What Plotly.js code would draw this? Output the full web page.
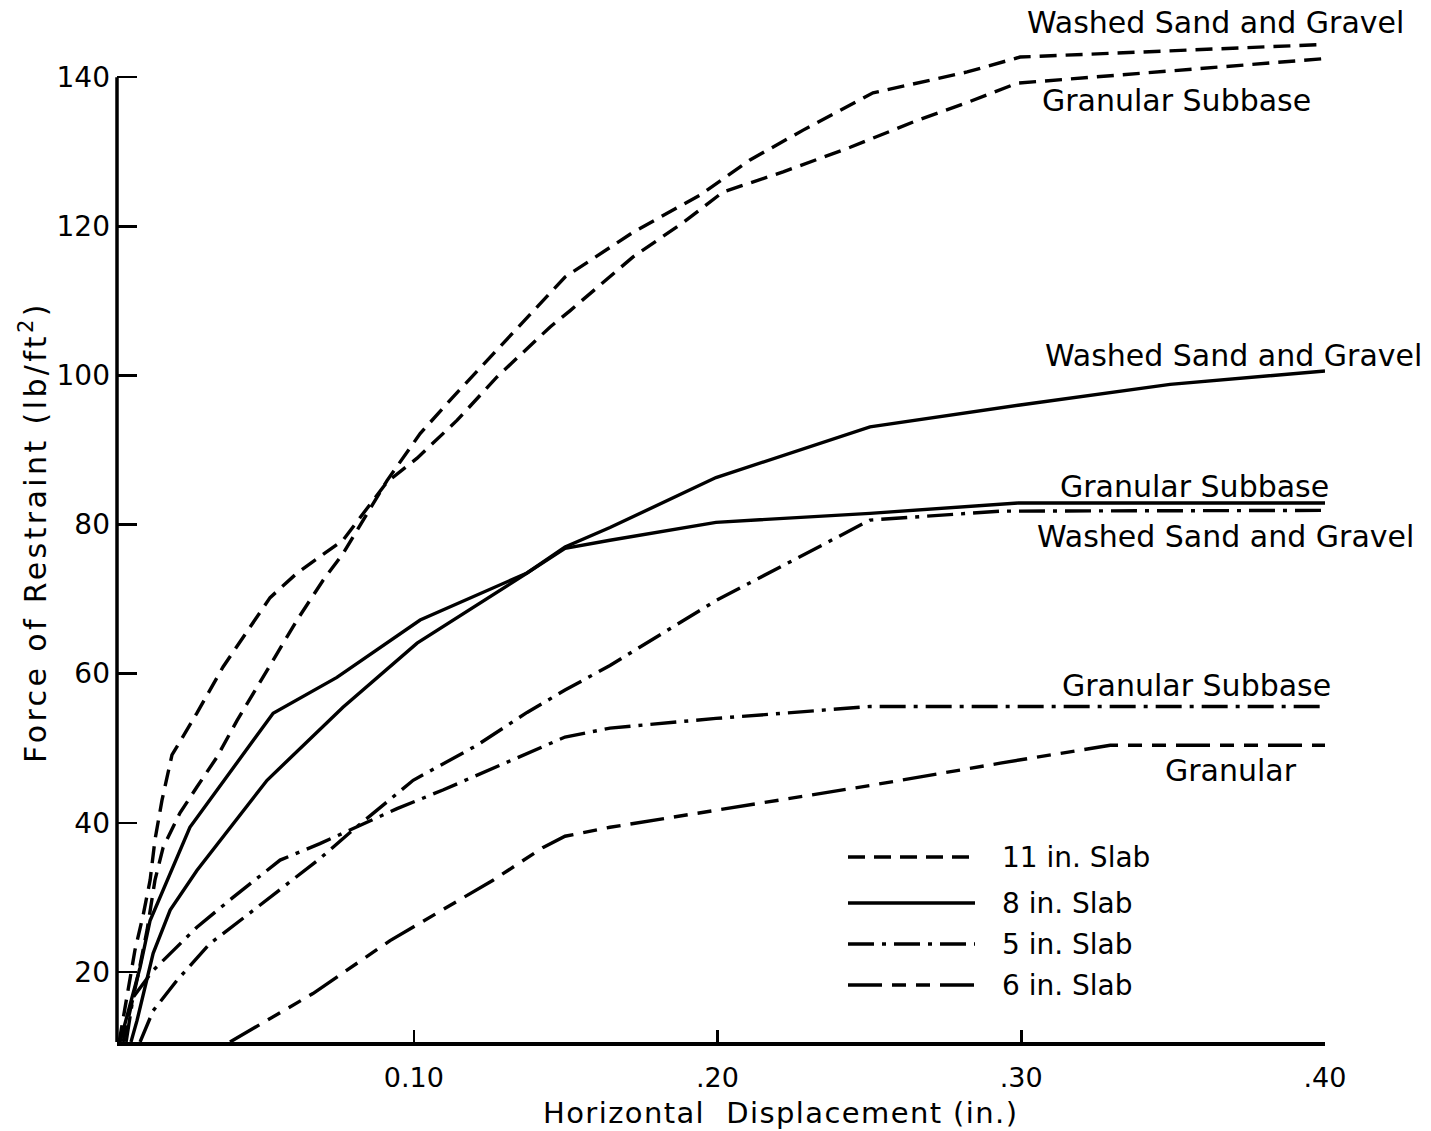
<!DOCTYPE html>
<html>
<head>
<meta charset="utf-8">
<script src="https://cdn.plot.ly/plotly-3.0.1.min.js"></script>
<style>
  html, body { margin: 0; padding: 0; background: #fff; }
  #chart { width: 1431px; height: 1131px; }
  g.annotation[data-index="0"] text { letter-spacing: 3.4px; }
  g.annotation[data-index="1"] text { letter-spacing: 1.4px; }
</style>
</head>
<body>
<div id="chart"></div>
<script>
// Force of restraint vs. horizontal slab displacement, by slab thickness and subbase

// 11 in. slab, washed sand and gravel
const disp11Washed  = [0.0043, 0.0066, 0.0092, 0.0122, 0.0148, 0.0175, 0.0230, 0.0286, 0.0352, 0.0418, 0.0484, 0.0550, 0.0616, 0.0701, 0.0767, 0.0912, 0.1021, 0.1129, 0.1274, 0.1373, 0.1498, 0.1722, 0.1943, 0.2107, 0.2282, 0.2512, 0.2657, 0.2822, 0.2996, 0.4000];
const force11Washed = [10.6, 14.8, 19.5, 25.6, 32.3, 36.7, 41.3, 44.8, 48.8, 53.7, 58.2, 62.7, 67.2, 72.5, 76.1, 85.9, 92.2, 97.1, 103.4, 107.8, 113.2, 119.2, 124.2, 128.9, 132.9, 137.9, 139.2, 140.7, 142.7, 144.4];

// 11 in. slab, granular subbase
const disp11Granular  = [0.0030, 0.0059, 0.0082, 0.0109, 0.0132, 0.0148, 0.0171, 0.0204, 0.0286, 0.0372, 0.0527, 0.0616, 0.0767, 0.0912, 0.1011, 0.1143, 0.1274, 0.1449, 0.1515, 0.1722, 0.1887, 0.2018, 0.2216, 0.2437, 0.2657, 0.2822, 0.2987, 0.4000];
const force11Granular = [10.6, 17.5, 22.9, 27.6, 32.3, 37.7, 43.0, 49.1, 54.7, 60.9, 70.2, 73.5, 77.9, 85.7, 88.9, 94.0, 99.8, 106.5, 108.7, 115.9, 120.5, 124.6, 127.3, 130.6, 134.2, 136.6, 139.2, 142.5];

// 8 in. slab, washed sand and gravel
const disp8Washed  = [0.0069, 0.0089, 0.0142, 0.0198, 0.0286, 0.0517, 0.0767, 0.1011, 0.1373, 0.1498, 0.1646, 0.1995, 0.2502, 0.2990, 0.3490, 0.4000];
const force8Washed = [10.6, 13.5, 22.5, 28.3, 33.6, 45.7, 55.5, 64.1, 73.5, 77.0, 79.6, 86.3, 93.1, 96.0, 98.8, 100.6];

// 8 in. slab, granular subbase
const disp8Granular  = [0.0033, 0.0099, 0.0132, 0.0263, 0.0537, 0.0747, 0.1021, 0.1373, 0.1498, 0.1646, 0.1995, 0.2502, 0.2990, 0.4000];
const force8Granular = [10.6, 20.6, 26.9, 39.4, 54.7, 59.5, 67.2, 73.5, 76.8, 77.9, 80.3, 81.5, 82.9, 82.9];

// 5 in. slab, washed sand and gravel
const disp5Washed  = [0.0099, 0.0142, 0.0221, 0.0329, 0.0451, 0.0570, 0.0691, 0.0790, 0.0998, 0.1208, 0.1373, 0.1498, 0.1646, 0.1995, 0.2502, 0.2931, 0.4000];
const force5Washed = [10.6, 14.8, 18.9, 23.8, 27.6, 31.3, 35.2, 38.7, 45.7, 50.4, 54.8, 57.8, 61.1, 69.8, 80.6, 81.8, 81.9];

// 5 in. slab, granular subbase
const disp5Granular  = [0.0053, 0.0076, 0.0142, 0.0286, 0.0405, 0.0560, 0.0691, 0.0790, 0.0945, 0.1096, 0.1373, 0.1498, 0.1646, 0.1995, 0.2502, 0.4000];
const force5Granular = [10.6, 16.6, 20.2, 26.0, 30.0, 35.0, 37.2, 39.0, 41.9, 44.4, 49.3, 51.5, 52.7, 54.0, 55.6, 55.6];

// 6 in. slab, granular
const disp6Granular  = [0.0395, 0.0668, 0.0922, 0.1261, 0.1426, 0.1498, 0.1646, 0.1995, 0.2502, 0.2931, 0.3293, 0.4000];
const force6Granular = [10.6, 17.1, 24.2, 32.3, 36.7, 38.2, 39.4, 41.7, 45.0, 48.0, 50.4, 50.4];

// axis ticks
const xTickVals = [0.10, 0.20, 0.30, 0.40];
const xTickText = ['0.10', '.20', '.30', '.40'];
const yTickVals = [20, 40, 60, 80, 100, 120, 140];

// legend entries
const legendLabels = ['11 in. Slab', '8 in. Slab', '5 in. Slab', '6 in. Slab'];

const FONT = 'DejaVu Sans, Verdana, sans-serif';
const INK = '#000';
const LW = 3.4;

const DASH_11 = '17px,9px';
const DASH_8 = 'solid';
const DASH_5 = '26px,8px,4px,8px';
const DASH_6 = '34px,10px,14px,10px,14px,10px';
const legendDashes = [DASH_11, DASH_8, DASH_5, DASH_6];

// plot-area geometry in page pixels
const W = 1431, H = 1131;
const M = { l: 117, r: 106, t: 25, b: 89 };
const plotW = W - M.l - M.r, plotH = H - M.t - M.b;
const px = v => (v - M.l) / plotW;           // page x -> paper x
const py = v => (H - M.b - v) / plotH;       // page y -> paper y

function curve(x, y, dash) {
  return {
    type: 'scatter', mode: 'lines', x: x, y: y,
    line: { color: INK, width: LW, dash: dash },
    hoverinfo: 'skip', showlegend: false
  };
}

const traces = [
  curve(disp11Washed, force11Washed, DASH_11),
  curve(disp11Granular, force11Granular, DASH_11),
  curve(disp8Washed, force8Washed, DASH_8),
  curve(disp8Granular, force8Granular, DASH_8),
  curve(disp5Washed, force5Washed, DASH_5),
  curve(disp5Granular, force5Granular, DASH_5),
  curve(disp6Granular, force6Granular, DASH_6)
];

function label(text, left, cy, size) {
  return {
    text: text, xref: 'paper', yref: 'paper', x: px(left), y: py(cy),
    xanchor: 'left', yanchor: 'middle', showarrow: false,
    font: { family: FONT, size: size || 30, color: INK }
  };
}

const annotations = [
  // axis titles
  {
    text: 'Force of Restraint (lb/ft<sup>2</sup>)', xref: 'paper', yref: 'paper',
    x: px(33), y: py(532), xanchor: 'center', yanchor: 'middle', textangle: -90,
    showarrow: false, font: { family: FONT, size: 30, color: INK }
  },
  {
    text: 'Horizontal  Displacement (in.)', xref: 'paper', yref: 'paper',
    x: px(780), y: py(1113), xanchor: 'center', yanchor: 'middle',
    showarrow: false, font: { family: FONT, size: 29, color: INK }
  },
  // curve labels
  label('Washed Sand and Gravel', 1025, 22),
  label('Granular Subbase', 1040, 100),
  label('Washed Sand and Gravel', 1043, 355),
  label('Granular Subbase', 1058, 486),
  label('Washed Sand and Gravel', 1035, 536),
  label('Granular Subbase', 1060, 685),
  label('Granular', 1163, 770)
];

const legendRows = [857, 903, 944, 985];
const shapes = [
  // left axis line, ending at the top tick
  {
    type: 'line', xref: 'paper', yref: 'y', x0: 0, x1: 0, y0: 10.6, y1: 140,
    line: { color: INK, width: 3.5 }
  }
];
legendLabels.forEach((t, i) => {
  shapes.push({
    type: 'line', xref: 'paper', yref: 'paper',
    x0: px(848), x1: px(975), y0: py(legendRows[i]), y1: py(legendRows[i]),
    line: { color: INK, width: LW, dash: legendDashes[i] }
  });
  annotations.push(label(t, 1000, legendRows[i], 28));
});

const layout = {
  width: W, height: H, margin: M,
  paper_bgcolor: '#fff', plot_bgcolor: '#fff',
  showlegend: false,
  font: { family: FONT, color: INK },
  xaxis: {
    range: [0.0023, 0.40], showgrid: false, zeroline: false,
    showline: true, linecolor: INK, linewidth: 3.5,
    ticks: 'inside', ticklen: 12, tickwidth: 2.5, tickcolor: INK,
    tickvals: xTickVals, ticktext: xTickText,
    tickfont: { family: FONT, size: 27, color: INK },
    ticklabelstandoff: 9
  },
  yaxis: {
    range: [10.6, 147], showgrid: false, zeroline: false, showline: false,
    ticks: 'inside', ticklen: 20, tickwidth: 2.5, tickcolor: INK,
    tickvals: yTickVals, ticktext: yTickVals.map(String),
    tickfont: { family: FONT, size: 28, color: INK },
    ticklabelstandoff: 6
  },
  shapes: shapes,
  annotations: annotations
};

Plotly.newPlot('chart', traces, layout, { displayModeBar: false, staticPlot: true });
</script>
</body>
</html>
